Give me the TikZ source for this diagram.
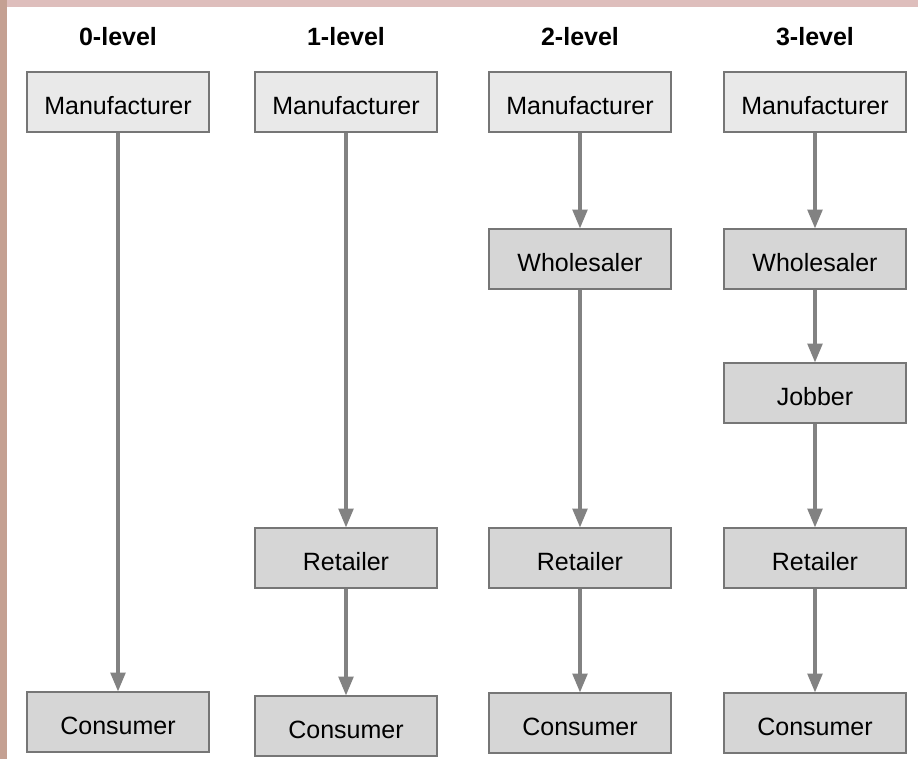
\documentclass[tikz,border=0pt]{standalone}
\usepackage{fontspec}
\setmainfont{Liberation Sans}
\usetikzlibrary{arrows.meta}
\definecolor{rim}{RGB}{222,190,188}
\definecolor{rimside}{RGB}{196,160,146}
\definecolor{boxline}{RGB}{118,118,118}
\definecolor{boxfill}{RGB}{214,214,214}
\definecolor{topfill}{RGB}{233,233,233}
\definecolor{arrowgray}{RGB}{130,130,130}
\begin{document}
\begin{tikzpicture}[x=0.75pt,y=-0.75pt,
  stage/.style={draw=boxline, line width=0.9pt, fill=boxfill, minimum width=136.5pt, minimum height=45pt, inner sep=0pt, text height=19pt, text depth=0pt, font=\fontsize{18.75}{20}\selectfont},
  maker/.style={stage, fill=topfill},
  head/.style={anchor=base, font=\fontsize{18.75}{20}\selectfont\bfseries},
  flow/.style={-{Triangle[length=14pt,width=11pt]}, draw=arrowgray, fill=arrowgray, line width=2.3pt}]
\fill[rim] (0,0) rectangle (918,759);
\fill[rimside] (0,0) rectangle (7,759);
\fill[white] (7,7) rectangle (918,759);

% level headings
\node[head] (h0) at (118,46) {0-level};
\node[head] (h1) at (346,46) {1-level};
\node[head] (h2) at (580,46) {2-level};
\node[head] (h3) at (815,46) {3-level};

% 0-level
\node[maker] (m0) at (118,102) {Manufacturer};
\node[stage] (c0) at (118,722) {Consumer};
% 1-level
\node[maker] (m1) at (346,102) {Manufacturer};
\node[stage] (r1) at (346,558) {Retailer};
\node[stage] (c1) at (346,726) {Consumer};
% 2-level
\node[maker] (m2) at (580,102) {Manufacturer};
\node[stage] (w2) at (580,259) {Wholesaler};
\node[stage] (r2) at (580,558) {Retailer};
\node[stage] (c2) at (580,723) {Consumer};
% 3-level
\node[maker] (m3) at (815,102) {Manufacturer};
\node[stage] (w3) at (815,259) {Wholesaler};
\node[stage] (j3) at (815,393) {Jobber};
\node[stage] (r3) at (815,558) {Retailer};
\node[stage] (c3) at (815,723) {Consumer};

\draw[flow] (m0) -- (c0);
\draw[flow] (m1) -- (r1);
\draw[flow] (r1) -- (c1);
\draw[flow] (m2) -- (w2);
\draw[flow] (w2) -- (r2);
\draw[flow] (r2) -- (c2);
\draw[flow] (m3) -- (w3);
\draw[flow] (w3) -- (j3);
\draw[flow] (j3) -- (r3);
\draw[flow] (r3) -- (c3);
\end{tikzpicture}
\end{document}
